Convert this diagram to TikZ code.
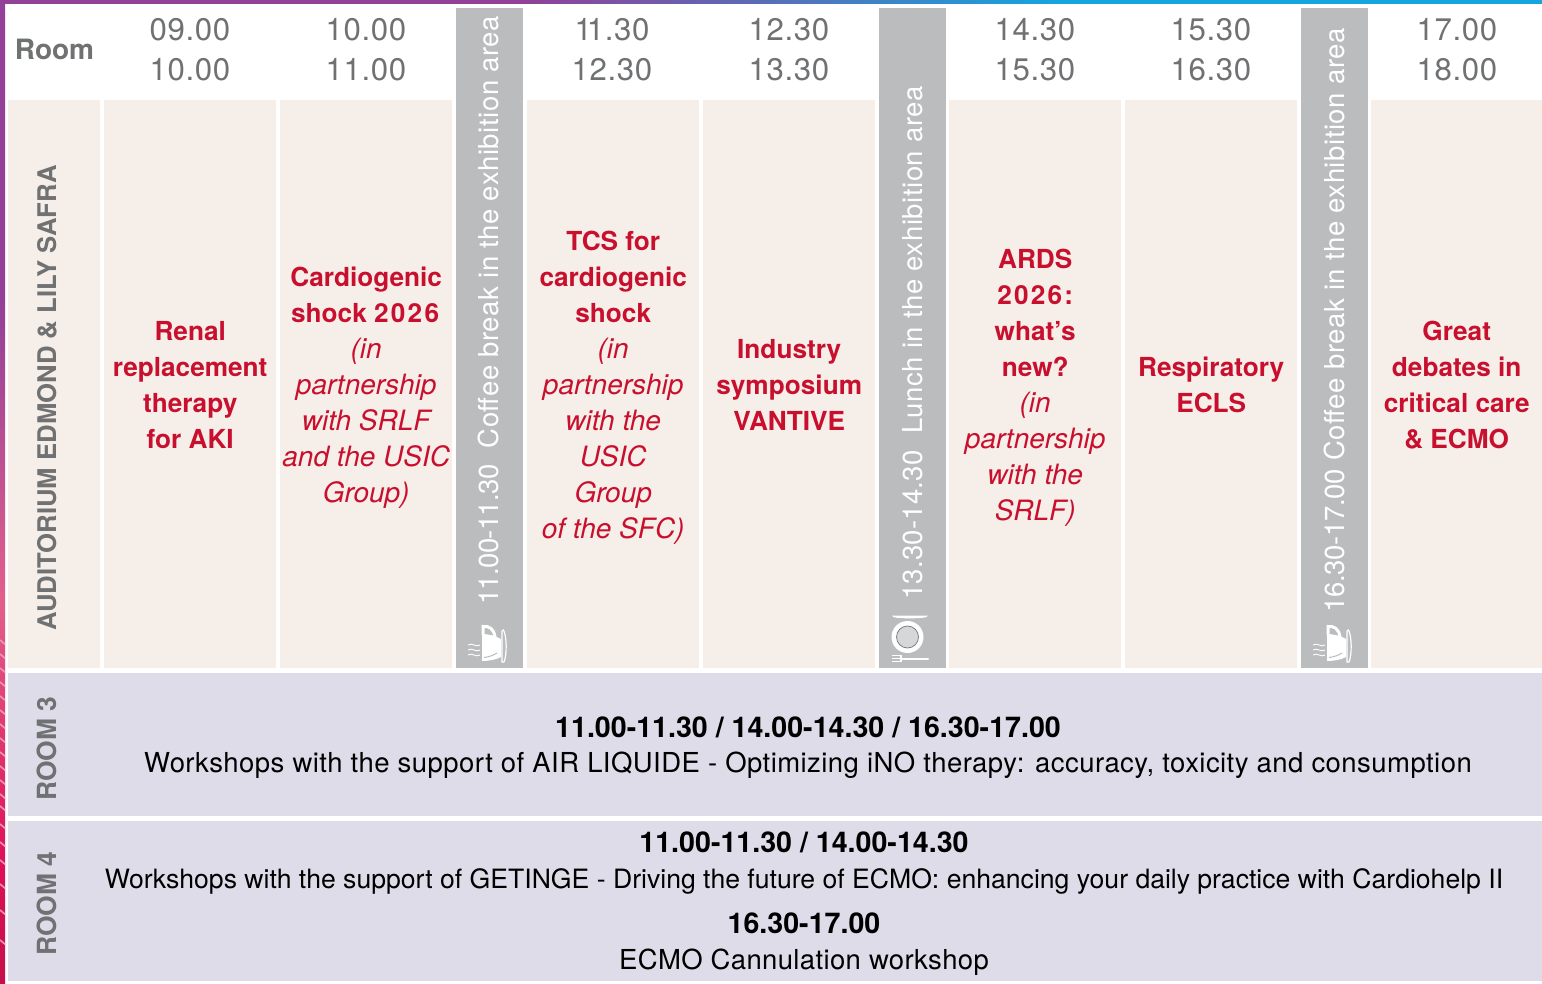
\documentclass[tikz,border=0pt]{standalone}
\usepackage{fontspec}
\setmainfont{TeX Gyre Heros}
\newfontface\bodyls[LetterSpace=2]{TeX Gyre Heros}
\newfontface\roomthreels[LetterSpace=1.6]{TeX Gyre Heros}
\newfontface\cannulals[LetterSpace=1.3]{TeX Gyre Heros}
\newfontface\breakdig[LetterSpace=-2.4]{TeX Gyre Heros}
\newfontface\breakdigb[LetterSpace=-1]{TeX Gyre Heros}
\newfontface\breakdigc[LetterSpace=1]{TeX Gyre Heros}
\newfontface\widedig[LetterSpace=8.5]{TeX Gyre Heros Bold}
\definecolor{cellbg}{HTML}{F6EEE8}
\definecolor{roombg}{HTML}{DFDCEA}
\definecolor{graybar}{HTML}{BBBCBE}
\definecolor{labgray}{HTML}{707173}
\definecolor{tred}{HTML}{C8102E}
\definecolor{stripa}{RGB}{146,64,152}
\definecolor{stripb}{RGB}{20,165,222}
\definecolor{stripc}{RGB}{222,16,90}
\definecolor{stripd}{RGB}{226,96,140}
\definecolor{stripe}{RGB}{196,16,74}
\pgfdeclarehorizontalshading{topstrip}{100bp}{color(0bp)=(stripa);color(41.9bp)=(stripa);color(59.4bp)=(stripb);color(100bp)=(stripb)}
\pgfdeclareverticalshading{sidestrip}{100bp}{color(0bp)=(stripe);color(25bp)=(stripe);color(31.3bp)=(stripc);color(44.5bp)=(stripd);color(59.8bp)=(stripa);color(100bp)=(stripa)}
\tikzset{x=1pt,y=-1pt,
 cellbox/.style={fill=cellbg,inner sep=0pt,anchor=north west},
 celltext/.style={inner sep=0pt,text=tred,align=center,font=\fontsize{26.2}{36}\selectfont},
 breakbox/.style={fill=graybar,inner sep=0pt,anchor=north west},
 roombox/.style={fill=roombg,inner sep=0pt,anchor=north west},
 timetext/.style={text=labgray,align=center,font=\fontsize{31.2}{40}\selectfont\bodyls},
 sidelabel/.style={text=labgray,rotate=90,font=\fontsize{25.7}{30}\selectfont\bfseries},
 roomlabel/.style={sidelabel,font=\fontsize{26.4}{30}\selectfont\bfseries},
 breaktext/.style={text=white,rotate=90,anchor=west,inner sep=0pt,font=\fontsize{27.5}{30}\selectfont\bodyls},
 worktitle/.style={text=black,font=\fontsize{28.6}{36}\selectfont\bfseries},
 worktext/.style={text=black,font=\fontsize{27.5}{36}\selectfont}
}
\newcommand{\ital}[1]{{\fontsize{28}{36}\selectfont\itshape #1}}
\newcommand{\cellnode}[5]{\node[cellbox,minimum width=#3pt,minimum height=568pt] (#1) at (#2,100) {};
 \node[celltext] (#1text) at ([yshift=-#4pt]#1.center) {#5};}
\newcommand{\breaknode}[2]{\node[breakbox,minimum width=67pt,minimum height=660pt] (#1) at (#2,8) {};}
\newcommand{\cupicon}[2]{\begin{scope}[shift={(#1,#2)}]
 \fill[white] (-9,-9) .. controls (-2,-9) and (5,-7) .. (10,-4) -- (10,14) .. controls (5,17) and (-4,18) .. (-9,18) -- cycle;
 \draw[white,line width=3pt] (-8,-8) -- (-8,-16.5) .. controls (-2,-17.5) and (3,-14) .. (4,-6);
 \draw[graybar,line width=1pt] (-7,14.5) .. controls (-2,14) and (3,12) .. (6,10);
 \draw[white,line width=1.2pt] (11,-12) -- (12.5,-13) .. controls (16,-6) and (16,12) .. (13,19) -- (11,19) -- cycle;
 \foreach \dy in {2,7,12}{\draw[white,line width=.9pt] (-23,\dy) .. controls (-19,\dy-3) and (-15,\dy+3) .. (-11,\dy);}
\end{scope}}
\newcommand{\plateicon}[2]{\begin{scope}[shift={(#1,#2)}]
 \fill[white] (0,0) circle (16);
 \fill[graybar!60!white] (0,0) circle (11);
 \draw[black!50,line width=.8pt] (0,0) circle (11);
 \fill[white] (-15.5,-21.5) -- (20.5,-21.5) .. controls (20.5,-19) and (12,-19) .. (2,-18.5) .. controls (-8,-19) and (-15.5,-19) .. (-15.5,-21.5) -- cycle;
 \draw[white,line width=2pt,line cap=round] (-5,21.5) -- (20.5,21.5);
 \draw[white,line width=1.4pt] (-7,18.5) -- (-15.5,18.5) (-7,21.5) -- (-15.5,21.5) (-7,24.5) -- (-15.5,24.5);
 \draw[white,line width=2pt] (-7,17.8) -- (-7,25.2);
\end{scope}}
\begin{document}
\begin{tikzpicture}
\useasboundingbox (0,0) rectangle (1542,984);
\fill[white] (0,0) rectangle (1542,984);
% strips
\shade[shading=topstrip] (0,0) rectangle (1542,3.6);
\shade[shading=sidestrip] (0,0) rectangle (5,984);
\begin{scope}
 \clip (0,0) rectangle (5,984);
 \foreach \yy in {640,654,668,682,696,710,724,738,752,766,780,794,806,824,842,860,884,910,940}{
  \draw[stripd!65!white,line width=1.6pt] (0,\yy) -- (6,\yy+5);}
\end{scope}
% header
\node[text=labgray,font=\fontsize{28}{30}\selectfont\bfseries] (roomhead) at (54.5,49.5) {Room};
\node[timetext] (t1) at (190,50) {09.00\\10.00};
\node[timetext] (t2) at (366,50) {10.00\\11.00};
\node[timetext] (t3) at (612,50) {1\kern-5pt 1.30\\12.30};
\node[timetext] (t4) at (789,50) {12.30\\13.30};
\node[timetext] (t5) at (1035,50) {14.30\\15.30};
\node[timetext] (t6) at (1211,50) {15.30\\16.30};
\node[timetext] (t7) at (1457,50) {17.00\\18.00};
% auditorium row
\node[cellbox,minimum width=92pt,minimum height=568pt] (audcell) at (8,100) {};
\node[sidelabel] (audlabel) at (47,398) {AUDITORIUM EDMOND \& LILY SAFRA};
\cellnode{c1}{104}{172}{1}{\textbf{Renal}\\\textbf{replacement}\\\textbf{therapy}\\\textbf{for AKI}}
\cellnode{c2}{280}{172}{4}{\textbf{Cardiogenic}\\\textbf{shock {\widedig 2026}}\\\ital{(in}\\\ital{partnership}\\\ital{with SRLF}\\\ital{and the USIC}\\\ital{Group)}}
\cellnode{c3}{527}{172}{4}{\textbf{TCS for}\\\textbf{cardiogenic}\\\textbf{shock}\\\ital{(in}\\\ital{partnership}\\\ital{with the}\\\ital{USIC}\\\ital{Group}\\\ital{of the SFC)}}
\cellnode{c4}{703}{172}{1}{\textbf{Industry}\\\textbf{symposium}\\\textbf{VANTIVE}}
\cellnode{c5}{949}{172}{3.5}{\textbf{ARDS}\\{\widedig 2026:}\\\textbf{what’s}\\\textbf{new?}\\\ital{(in}\\\ital{partnership}\\\ital{with the}\\\ital{SRLF)}}
\cellnode{c6}{1125}{172}{1}{\textbf{Respiratory}\\\textbf{ECLS}}
\cellnode{c7}{1371}{171}{1}{\textbf{Great}\\\textbf{debates in}\\\textbf{critical care}\\\textbf{\& ECMO}}
% breaks
\breaknode{b1}{456}
\breaknode{b2}{879}
\breaknode{b3}{1301}
\node[breaktext] (b1t) at (488,605) {{\breakdig 11.00-11.30}\ \ Coffee break in the exhibition area};
\node[breaktext] (b2t) at (913,600) {{\breakdigc 13.30-14.30}\ \ Lunch in the exhibition area};
\node[breaktext] (b3t) at (1334,613) {{\breakdigb 16.30-17.00} Coffee break in the exhibition area};
\cupicon{491}{643}
\plateicon{907.5}{637}
\cupicon{1336}{643}
% rooms
\node[roombox,minimum width=1534pt,minimum height=143pt] (r3) at (8,673) {};
\node[roombox,minimum width=1534pt,minimum height=160pt] (r4) at (8,821) {};
\node[roomlabel] (r3l) at (47,748.5) {ROOM 3};
\node[roomlabel] (r4l) at (47,903.5) {ROOM 4};
\node[worktitle] (w1) at (808,727) {11.00-11.30 / 14.00-14.30 / 16.30-17.00};
\node[worktext] (w2) at (808,765) {\roomthreels Workshops with the support of AIR LIQUIDE - Optimizing iNO therapy: accuracy, toxicity and consumption};
\node[worktitle] (w3) at (804,842) {11.00-11.30 / 14.00-14.30};
\node[worktext,font=\fontsize{26.6}{36}\selectfont] (w4) at (804,881) {Workshops with the support of GETINGE - Driving the future of ECMO: enhancing your daily practice with Cardiohelp II};
\node[worktitle] (w5) at (804,923) {16.30-17.00};
\node[worktext] (w6) at (804,962) {\cannulals ECMO Cannulation workshop};
\end{tikzpicture}
\end{document}
